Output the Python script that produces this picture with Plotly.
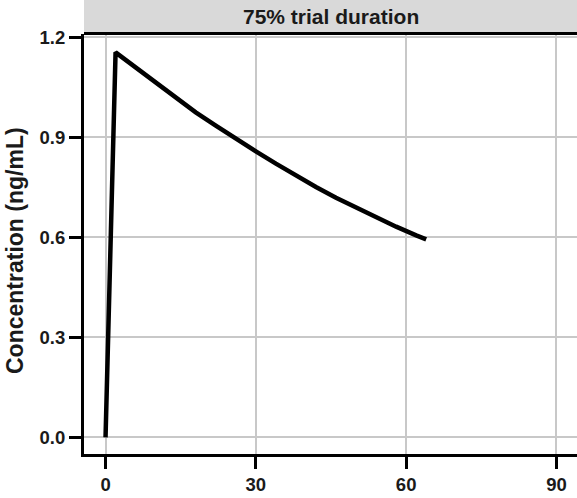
import plotly.graph_objects as go

# Data
time_days = [0, 2, 6, 10, 14, 18, 22, 26, 30, 34, 38, 42, 46, 50, 54, 58, 62, 64]
concentration = [0.0, 1.155, 1.11, 1.065, 1.02, 0.975, 0.935, 0.895, 0.858,
                 0.821, 0.785, 0.751, 0.719, 0.689, 0.66, 0.632, 0.606, 0.594]
x_ticks = [0, 30, 60, 90]
y_ticks = [0.0, 0.3, 0.6, 0.9, 1.2]
panel_label = "75% trial duration"
y_title = "Concentration (ng/mL)"

W, H = 577, 498
ML, MR, MT, MB = 84, 0, 34, 44
plot_h = H - MT - MB

font_family = "Liberation Sans, Arial, Helvetica, sans-serif"

fig = go.Figure()
fig.add_trace(go.Scatter(
    x=time_days, y=concentration, mode="lines",
    line=dict(color="black", width=4.5),
    showlegend=False, hoverinfo="skip"))

axis_common = dict(
    showline=True, linecolor="black", linewidth=3,
    ticks="outside", ticklen=12, tickwidth=3, tickcolor="black",
    showgrid=True, gridcolor="#c8c8c8", gridwidth=1.5,
    zeroline=False,
    tickfont=dict(family=font_family, size=18.5, color="#1a1a1a", weight="bold"),
)

fig.update_layout(
    width=W, height=H,
    margin=dict(l=ML, r=MR, t=MT, b=MB, pad=0),
    plot_bgcolor="white", paper_bgcolor="white",
    xaxis=dict(range=[-4.3, 94.1], tickvals=x_ticks,
               ticktext=[f"<b>{v}</b>" for v in x_ticks], **axis_common),
    yaxis=dict(range=[-0.05, 1.21], tickvals=y_ticks,
               ticktext=[f"<b>{v:.1f}</b>" for v in y_ticks], **axis_common),
    shapes=[
        dict(type="rect", xref="paper", yref="paper", x0=0, x1=1,
             y0=1, y1=1 + MT / plot_h, fillcolor="#d9d9d9",
             line=dict(width=0), layer="below"),
        dict(type="line", xref="paper", yref="paper", x0=0, x1=1,
             y0=1 + 0.5 / plot_h, y1=1 + 0.5 / plot_h,
             line=dict(color="black", width=3)),
    ],
    annotations=[
        dict(text=f"<b>{panel_label}</b>", xref="paper", yref="paper",
             x=0.5, y=(H - MB - 17) / plot_h, xanchor="center", yanchor="middle",
             showarrow=False,
             font=dict(family=font_family, size=21, color="#1a1a1a")),
        dict(text=f"<b>{y_title}</b>", xref="paper", yref="paper",
             x=(15 - ML) / (W - ML - MR), y=(H - MB - 251) / plot_h,
             xanchor="center", yanchor="middle", textangle=-90,
             showarrow=False,
             font=dict(family=font_family, size=23, color="#1a1a1a")),
    ],
)

fig.write_html("out.html")
